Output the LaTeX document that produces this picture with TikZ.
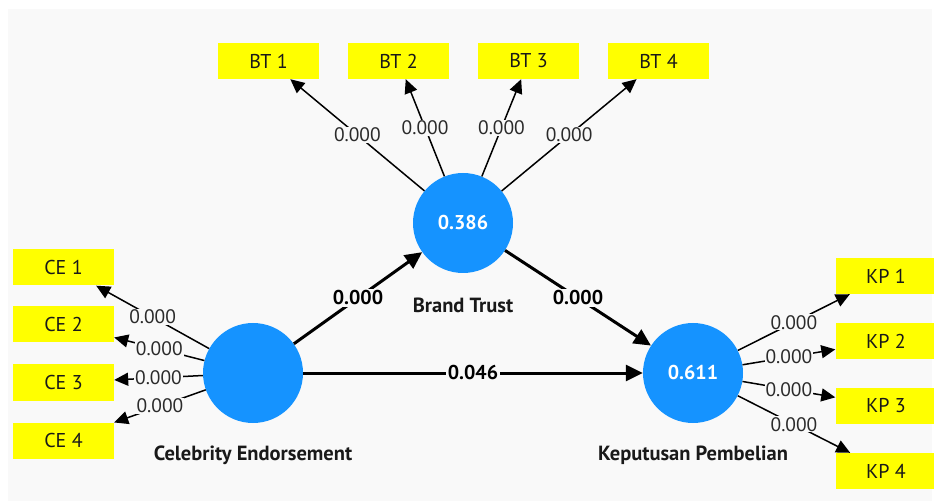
\documentclass[tikz,border=0pt]{standalone}
\usepackage{fontspec}
\setmainfont{PT Sans}
\usetikzlibrary{arrows.meta}
\definecolor{canvas}{HTML}{F9F9F9}
\definecolor{lvblue}{HTML}{1593FF}
\definecolor{indyellow}{HTML}{FFFF00}
\definecolor{loadtext}{HTML}{2B2B2B}
\begin{document}
\begin{tikzpicture}[x=1pt,y=-1pt,
  latent/.style={circle,fill=lvblue,minimum size=100pt,inner sep=0pt,
    text=white,font=\fontsize{20}{22}\selectfont\bfseries},
  indic/.style={rectangle,fill=indyellow,minimum width=101pt,minimum height=36pt,
    inner sep=0pt,font=\fontsize{20}{22}\selectfont,text=black!90},
  lvname/.style={font=\fontsize{20.5}{22}\selectfont\bfseries,text=black!90},
  loadarrow/.style={line width=1.5pt,draw=black,-{Triangle[length=14pt,width=13pt]}},
  patharrow/.style={line width=3pt,draw=black,-{Triangle[length=17pt,width=16pt]}},
  loadlabel/.style={fill=canvas,inner sep=1pt,font=\fontsize{19.5}{22}\selectfont,text=loadtext},
  pathlabel/.style={fill=canvas,inner sep=1.5pt,font=\fontsize{20}{22}\selectfont\bfseries}]

% canvas
\useasboundingbox (0,0) rectangle (934,502);
\fill[white] (0,0) rectangle (934,502);
\fill[canvas] (8,9) rectangle (932,501);

% latent variables
\node[latent] (BT) at (463,223) {0.386};
\node[latent] (CE) at (253,373) {};
\node[latent] (KP) at (693,373) {0.611};
\node[lvname] (BTname) at (463,305) {Brand Trust};
\node[lvname] (CEname) at (253,455) {Celebrity Endorsement};
\node[lvname] (KPname) at (693,455) {Keputusan Pembelian};

% indicators
\node[indic] (BT1) at (268.5,61) {BT 1};
\node[indic] (BT2) at (398.5,61) {BT 2};
\node[indic] (BT3) at (528.5,61) {BT 3};
\node[indic] (BT4) at (658.5,61) {BT 4};
\node[indic] (CE1) at (63.5,267.5) {CE 1};
\node[indic] (CE2) at (63.5,324.5) {CE 2};
\node[indic] (CE3) at (63.5,382.5) {CE 3};
\node[indic] (CE4) at (63.5,440.5) {CE 4};
\node[indic] (KP1) at (886,276) {KP 1};
\node[indic] (KP2) at (886,341) {KP 2};
\node[indic] (KP3) at (886,406) {KP 3};
\node[indic] (KP4) at (886,471) {KP 4};

% outer loadings
\foreach \i in {1,...,4}{
  \draw[loadarrow] (BT) -- node[loadlabel]{0.000} (BT\i);
  \draw[loadarrow] (CE) -- node[loadlabel]{0.000} (CE\i);
  \draw[loadarrow] (KP) -- node[loadlabel]{0.000} (KP\i);
}

% structural paths
\draw[patharrow] (CE) -- node[pathlabel]{0.000} (BT);
\draw[patharrow] (BT) -- node[pathlabel]{0.000} (KP);
\draw[patharrow] (CE) -- node[pathlabel]{0.046} (KP);
\end{tikzpicture}
\end{document}
